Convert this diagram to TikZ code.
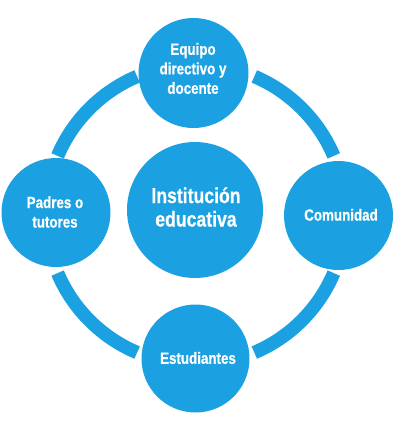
\documentclass[tikz,border=0pt]{standalone}
\usepackage{fontspec}
\setmainfont{Liberation Sans}[FakeStretch=0.82, BoldFeatures={FakeBold=0.6}]
\definecolor{edublue}{HTML}{1BA1E2}
\tikzset{
  bubble/.style={circle, fill=edublue, draw=none, inner sep=0pt},
  ring/.style={draw=edublue, line width=13.5pt, line cap=butt},
  lab/.style={text=white, align=center, inner sep=0pt,
    font=\fontsize{16.3}{19.5}\selectfont\bfseries},
  biglab/.style={text=white, align=center, inner sep=0pt,
    font=\fontsize{21.5}{23.5}\selectfont\bfseries}
}
\begin{document}
\begin{tikzpicture}[x=1pt,y=-1pt]
\useasboundingbox (0,0) rectangle (400,421);
\coordinate (c) at (195.7,214.5);
% ring arcs
\draw[ring] ([shift={(-23:150)}]c) arc[start angle=-23, end angle=-67, radius=150];
\draw[ring] ([shift={(-113:150)}]c) arc[start angle=-113, end angle=-157, radius=150];
\draw[ring] ([shift={(-203:150)}]c) arc[start angle=-203, end angle=-247, radius=150];
\draw[ring] ([shift={(-293:150)}]c) arc[start angle=-293, end angle=-337, radius=150];
% circles
\node[bubble, minimum size=110pt] (top) at (193.5,73) {};
\node[bubble, minimum size=136pt] (mid) at (195,210) {};
\node[bubble, minimum size=109pt] (left) at (56,212.5) {};
\node[bubble, minimum size=109pt] (right) at (338.5,215.5) {};
\node[bubble, minimum size=108pt] (bot) at (195.5,358.5) {};
% labels
\node[lab] (ttop) at (193,68.5) {Equipo\\directivo y\\docente};
\node[biglab] (tmid) at (196,207) {Institución\\educativa};
\node[lab] (tleft) at (55,212) {Padres o\\tutores};
\node[lab] (tright) at (341,214.8) {Comunidad};
\node[lab] (tbot) at (198,358) {Estudiantes};
\end{tikzpicture}
\end{document}
